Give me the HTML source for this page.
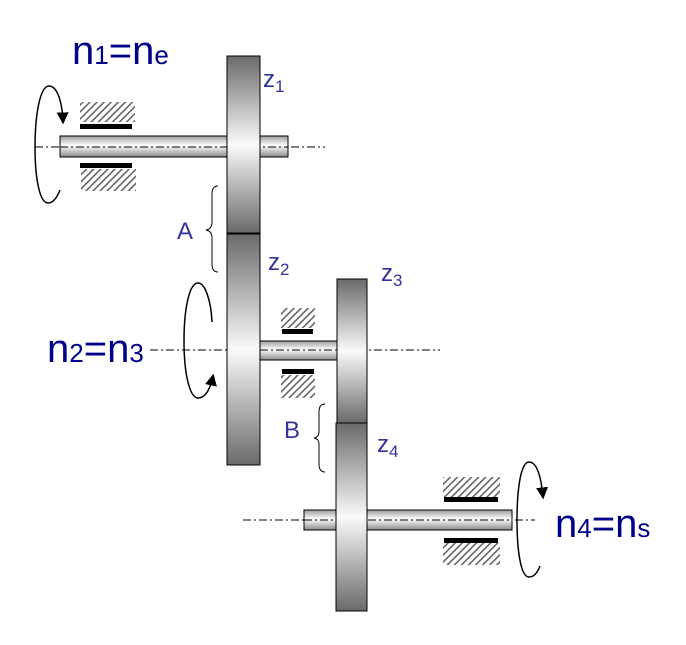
<!DOCTYPE html>
<html><head><meta charset="utf-8"><style>html,body{margin:0;padding:0;background:#fff}svg{display:block}</style></head>
<body>
<svg width="686" height="645" viewBox="0 0 686 645" xmlns="http://www.w3.org/2000/svg">
<defs>
<linearGradient id="g" x1="0" y1="0" x2="0" y2="1"><stop offset="0" stop-color="#6a6a6a"/><stop offset="0.5" stop-color="#fafafa"/><stop offset="1" stop-color="#6a6a6a"/></linearGradient>
<linearGradient id="s" x1="0" y1="0" x2="0" y2="1"><stop offset="0" stop-color="#9a9a9a"/><stop offset="0.45" stop-color="#ffffff"/><stop offset="1" stop-color="#8a8a8a"/></linearGradient>
<pattern id="h" width="5" height="5" patternUnits="userSpaceOnUse" patternTransform="rotate(45)"><rect width="5" height="5" fill="#fff"/><rect width="1.6" height="5" fill="#666"/></pattern>
<marker id="ar" viewBox="0 0 10 10" refX="8" refY="5" markerWidth="8" markerHeight="8" orient="auto"><path d="M0,0 L10,5 L0,10 z" fill="#000"/></marker>
</defs>
<g stroke="#000" stroke-width="1" fill="none" stroke-dasharray="8,3,2,3">
<line x1="35" y1="147" x2="325" y2="147"/>
<line x1="150" y1="350" x2="440" y2="350"/>
<line x1="243" y1="520" x2="535" y2="520"/>
</g>
<rect x="60" y="136" width="228" height="21" fill="url(#s)" stroke="#000"/>
<rect x="260" y="341" width="77" height="19" fill="url(#s)" stroke="#000"/>
<rect x="304" y="510" width="208" height="20" fill="url(#s)" stroke="#000"/>
<line x1="60" y1="147" x2="288" y2="147" stroke="#000" stroke-dasharray="8,3,2,3"/>
<line x1="260" y1="350" x2="337" y2="350" stroke="#000" stroke-dasharray="8,3,2,3"/>
<line x1="304" y1="520" x2="512" y2="520" stroke="#000" stroke-dasharray="8,3,2,3"/>
<rect x="227" y="56" width="33" height="177" fill="url(#g)" stroke="#000"/>
<rect x="227" y="234" width="33" height="231" fill="url(#g)" stroke="#000"/>
<rect x="337" y="279" width="30" height="144" fill="url(#g)" stroke="#000"/>
<rect x="336" y="423" width="31" height="188" fill="url(#g)" stroke="#000"/>
<rect x="80" y="102" width="55" height="20" fill="url(#h)"/><rect x="80" y="124" width="52" height="5" fill="#000"/>
<rect x="80" y="163" width="52" height="5" fill="#000"/><rect x="81" y="169" width="55" height="22" fill="url(#h)"/>
<rect x="281" y="308" width="34" height="20" fill="url(#h)"/><rect x="282" y="329" width="31" height="5" fill="#000"/>
<rect x="282" y="369" width="32" height="5" fill="#000"/><rect x="281" y="375" width="34" height="23" fill="url(#h)"/>
<rect x="443" y="477" width="57" height="20" fill="url(#h)"/><rect x="444" y="497" width="54" height="5" fill="#000"/>
<rect x="444" y="538" width="54" height="5" fill="#000"/><rect x="443" y="543" width="57" height="22" fill="url(#h)"/>
<g fill="none" stroke="#000" stroke-width="1.5">
<path d="M60,190 C56,200 52,203 48,203 C40,203 35,180 35,147 C35,115 40,86 49,86 C56,86 62,98 63,122" marker-end="url(#ar)"/>
<path d="M212,322 C211,300 205,283 198,283 C189,283 184,310 184,341 C184,375 190,398 198,398 C205,398 210,390 213,376" marker-end="url(#ar)"/>
<path d="M540,566 C537,574 533,577 529,577 C521,577 517,552 517,520 C517,488 521,462 529,462 C537,462 541,476 543,497" marker-end="url(#ar)"/>
</g>
<g fill="none" stroke="#000" stroke-width="1">
<path d="M218,186 Q212,186 212,194 L212,222 Q212,229 206,230 Q212,231 212,238 L212,264 Q212,272 218,272"/>
<path d="M325,404 Q319,404 319,412 L319,432 Q319,437 314,438 Q319,439 319,444 L319,464 Q319,472 325,472"/>
</g>
<g font-family="Liberation Sans, sans-serif" fill="#000088">
<text x="72" y="64" font-size="40">n<tspan font-size="26">1</tspan>=n<tspan font-size="26">e</tspan></text>
<text x="47" y="362" font-size="40">n<tspan font-size="26">2</tspan>=n<tspan font-size="26">3</tspan></text>
<text x="555" y="537" font-size="40">n<tspan font-size="26">4</tspan>=n<tspan font-size="26">s</tspan></text>
</g>
<g font-family="Liberation Sans, sans-serif" fill="#333399" font-size="24">
<text x="263" y="87">z<tspan font-size="17" dy="5">1</tspan></text>
<text x="268" y="270">z<tspan font-size="17" dy="5">2</tspan></text>
<text x="381" y="281">z<tspan font-size="17" dy="5">3</tspan></text>
<text x="377" y="452">z<tspan font-size="17" dy="5">4</tspan></text>
<text x="177" y="239">A</text>
<text x="284" y="438">B</text>
</g>
</svg>
</body></html>
